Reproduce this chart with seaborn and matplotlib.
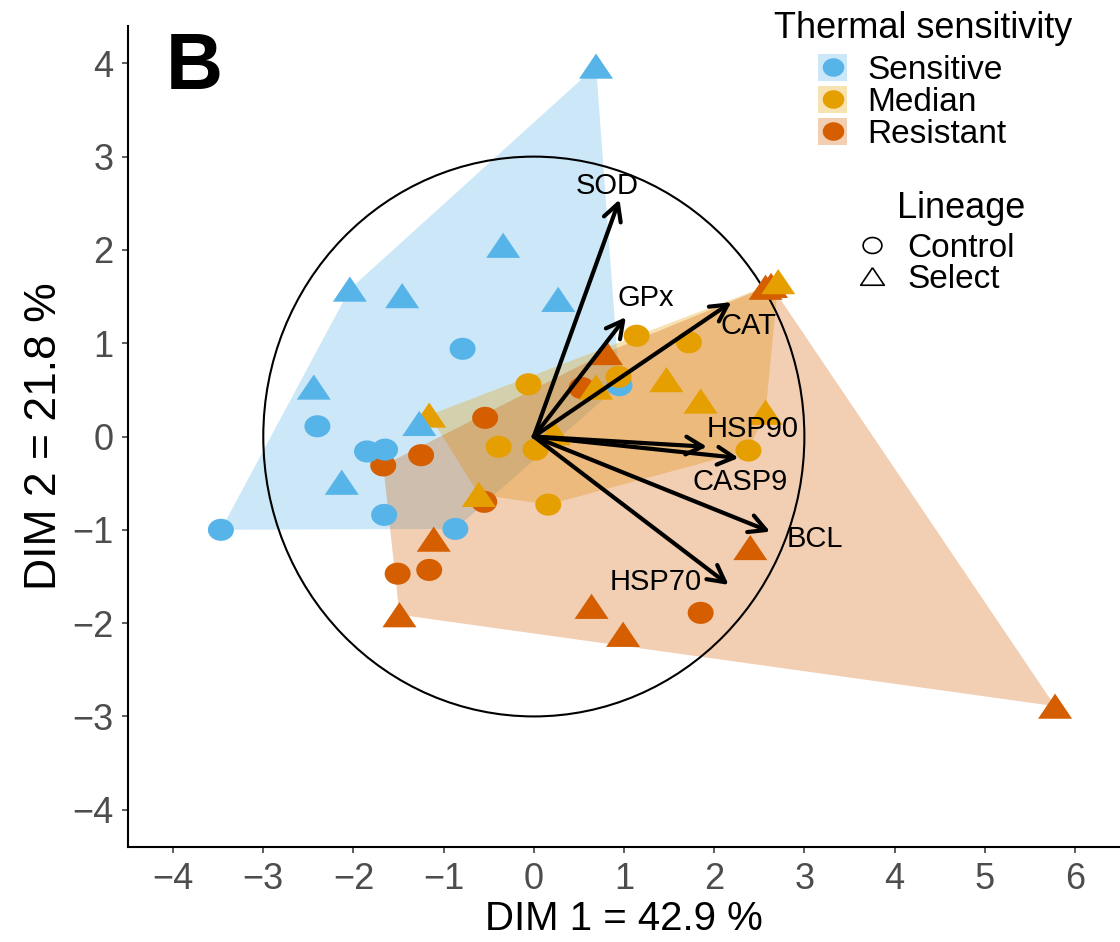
import numpy as np
import pandas as pd
import matplotlib
matplotlib.use("Agg")
import matplotlib.pyplot as plt
from matplotlib.path import Path
from matplotlib.patches import Circle, Patch
from matplotlib.lines import Line2D
import seaborn as sns

# --- scores of the individuals on DIM 1 / DIM 2 (list order = drawing order)
dim1 = [
    # Resistant
    -0.54, -1.25, -1.67, 0.53, -0.55, -1.51, -1.16, 1.85,
    0.80, 2.57, 2.63, 5.78, 2.40, 0.64, 0.99, -1.11, -1.49,
    # Sensitive (one control hidden under the median points)
    0.95,
    # Median
    1.14, 1.72, -0.06, 0.94, -0.39, 0.02, 0.16, 2.38,
    2.71, -1.16, 0.69, 1.47, 1.85, 2.57, -0.61, 0.22,
    # Sensitive
    -0.79, -2.40, -1.85, -1.65, -1.66, -0.87, -3.47,
    0.69, -0.34, -2.04, -1.46, 0.27, -2.44, -1.27, -2.13,
]
dim2 = [
    0.20, -0.20, -0.31, 0.52, -0.70, -1.47, -1.43, -1.89,
    0.90, 1.60, 1.62, -2.89, -1.19, -1.82, -2.12, -1.10, -1.91,
    0.55,
    1.08, 1.01, 0.56, 0.64, -0.11, -0.14, -0.73, -0.15,
    1.66, 0.23, 0.53, 0.61, 0.38, 0.26, -0.62, 0.04,
    0.94, 0.11, -0.16, -0.14, -0.84, -0.99, -1.00,
    3.97, 2.05, 1.58, 1.51, 1.47, 0.53, 0.14, -0.49,
]
sensitivity = (["Resistant"] * 17 + ["Sensitive"] + ["Median"] * 16
               + ["Sensitive"] * 15)
lineage = (["Control"] * 8 + ["Select"] * 9 + ["Control"]
           + ["Control"] * 8 + ["Select"] * 8
           + ["Control"] * 7 + ["Select"] * 8)

# --- variable loadings (arrow tips)
var_names = ["SOD", "GPx", "CAT", "HSP90", "CASP9", "BCL", "HSP70"]
var_dim1 = [0.95, 1.02, 2.19, 1.92, 2.27, 2.62, 2.16]
var_dim2 = [2.54, 1.28, 1.44, -0.11, -0.23, -1.02, -1.59]

groups = ["Sensitive", "Median", "Resistant"]
lineages = ["Control", "Select"]

df = pd.DataFrame({"dim1": dim1, "dim2": dim2,
                   "sensitivity": sensitivity, "lineage": lineage})

palette = {"Sensitive": "#56B4E9", "Median": "#E69F00", "Resistant": "#D55E00"}

# where the arrow labels sit
label_pos = {"SOD": (0.81, 2.68), "GPx": (1.24, 1.49), "CAT": (2.38, 1.18),
             "HSP90": (2.43, 0.08), "CASP9": (2.29, -0.49),
             "BCL": (3.12, -1.10), "HSP70": (1.35, -1.56)}


def convex_hull(points):
    """Monotone chain convex hull."""
    pts = sorted(map(tuple, points))

    def cross(o, a, b):
        return (a[0] - o[0]) * (b[1] - o[1]) - (a[1] - o[1]) * (b[0] - o[0])

    lower, upper = [], []
    for p in pts:
        while len(lower) >= 2 and cross(lower[-2], lower[-1], p) <= 0:
            lower.pop()
        lower.append(p)
    for p in reversed(pts):
        while len(upper) >= 2 and cross(upper[-2], upper[-1], p) <= 0:
            upper.pop()
        upper.append(p)
    return np.array(lower[:-1] + upper[:-1])


# markers (slightly wide, like the reference)
t = np.linspace(0, 2 * np.pi, 60)
ellipse = Path(np.column_stack([np.cos(t), 0.85 * np.sin(t)]))
triangle = Path([(0, 0.74), (-1, -0.74), (1, -0.74), (0, 0.74)])

sns.set_style("white")
plt.rcParams["font.family"] = ["Liberation Sans", "DejaVu Sans"]
plt.rcParams["text.color"] = "black"
plt.rcParams["axes.labelcolor"] = "black"

fig = plt.figure(figsize=(11.2, 9.42), dpi=100)
ax = fig.add_axes([0.1143, 0.1008, 0.8857, 0.8716])

# hulls
for g in groups:
    sub = df[df["sensitivity"] == g]
    hull = convex_hull(sub[["dim1", "dim2"]].values)
    ax.fill(hull[:, 0], hull[:, 1], color=palette[g], alpha=0.3, lw=0, zorder=1)

# correlation circle
ax.add_patch(Circle((0, 0), 3, fill=False, ec="black", lw=1.5, zorder=2))

# individuals
sns.scatterplot(data=df, x="dim1", y="dim2", hue="sensitivity", style="lineage",
                size="lineage", palette=palette,
                markers={"Control": ellipse, "Select": triangle},
                sizes={"Control": 350, "Select": 600},
                linewidth=0, legend=False, ax=ax, zorder=3)

# variable arrows
for name, vx, vy in zip(var_names, var_dim1, var_dim2):
    ax.annotate("", xy=(vx, vy), xytext=(0, 0),
                arrowprops=dict(arrowstyle="->,head_length=0.6,head_width=0.32",
                                lw=3.0, color="black", shrinkA=0, shrinkB=0,
                                mutation_scale=20),
                zorder=4)
    lx, ly = label_pos[name]
    ax.text(lx, ly, name, fontsize=21, ha="center", va="center", zorder=5)

ax.set_xlim(-4.5, 6.5)
ax.set_ylim(-4.4, 4.4)
ax.set_xticks(range(-4, 7))
ax.set_yticks(range(-4, 5))
ax.tick_params(labelsize=26, labelcolor="#4D4D4D", color="#333333",
               length=4.5, width=1.1, pad=6, direction="out",
               bottom=True, left=True)
for side in ["top", "right"]:
    ax.spines[side].set_visible(False)
for side in ["left", "bottom"]:
    ax.spines[side].set_color("black")
    ax.spines[side].set_linewidth(1.5)

ax.set_xlabel("DIM 1 = 42.9 %", fontsize=29, va="center")
ax.set_ylabel("DIM 2 = 21.8 %", fontsize=32, va="center")
ax.xaxis.set_label_coords(0.5, -0.088)
ax.yaxis.set_label_coords(-0.0837, 0.5)

ax.text(0.038, 0.948, "B", transform=ax.transAxes, fontsize=57,
        fontweight="bold", ha="left", va="center")

# legends
sens_handles = [(Patch(facecolor=palette[g], alpha=0.3, edgecolor="none"),
                 Line2D([0], [0], marker=ellipse, ls="", color=palette[g], ms=14.5))
                for g in groups]
leg1 = ax.legend(sens_handles, groups, loc="upper left",
                 bbox_to_anchor=(818 / 1120, 1 - 54 / 942),
                 bbox_transform=fig.transFigure, frameon=False, fontsize=24,
                 handlelength=0.87, handleheight=0.87, labelspacing=0.0,
                 handletextpad=0.6, borderpad=0, borderaxespad=0)
ax.add_artist(leg1)

lin_handles = [Line2D([0], [0], marker=ellipse, ls="", mfc="none", mec="black",
                      mew=1.2, ms=13.5),
               Line2D([0], [0], marker=triangle, ls="", mfc="none", mec="black",
                      mew=1.2, ms=17)]
ax.legend(lin_handles, lineages, loc="upper left",
          bbox_to_anchor=(859 / 1120, 1 - 233 / 942),
          bbox_transform=fig.transFigure, frameon=False, fontsize=24,
          handlelength=0.78, labelspacing=0.0, handletextpad=0.66,
          borderpad=0, borderaxespad=0)

fig.text(923 / 1120, 1 - 29 / 942, "Thermal sensitivity", fontsize=26,
         ha="center", va="center")
fig.text(961 / 1120, 1 - 208 / 942, "Lineage", fontsize=26,
         ha="center", va="center")

fig.savefig("out.png", dpi=100, facecolor="white")
plt.close(fig)
